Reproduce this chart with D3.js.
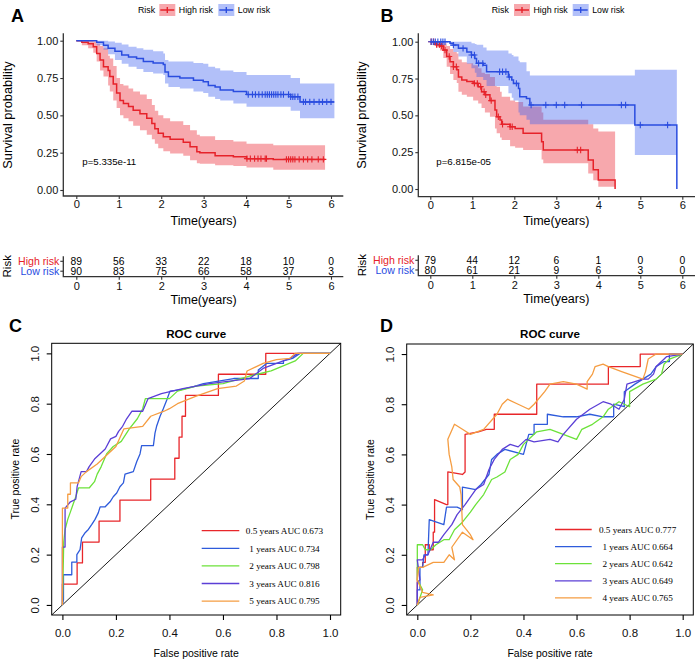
<!DOCTYPE html>
<html><head><meta charset="utf-8">
<script src="https://cdn.jsdelivr.net/npm/d3@7"></script>
<style>body{margin:0;background:#fff}</style></head>
<body><svg id="c" width="699" height="662"></svg>
<script>
// ---------------- DATA ----------------
const timeTicks = [0, 1, 2, 3, 4, 5, 6];
const survTicks = [0, 0.25, 0.5, 0.75, 1];
const rocTicks = [0, 0.2, 0.4, 0.6, 0.8, 1.0];
const riskGroups = ["High risk", "Low risk"];

// Panel A (training)
const aHighTime  = [0,0.13,0.28,0.40,0.48,0.56,0.64,0.75,0.79,0.87,0.95,1.03,1.11,1.23,1.34,1.50,1.66,1.78,1.85,1.93,2.05,2.21,2.52,2.68,2.84,2.91,3.27,3.70,4.01,4.64,5.86];
const aHighSurv  = [1,0.99,0.98,0.96,0.915,0.87,0.826,0.80,0.76,0.71,0.65,0.60,0.58,0.56,0.535,0.51,0.48,0.446,0.41,0.38,0.357,0.34,0.32,0.29,0.257,0.25,0.23,0.223,0.21,0.205,0.205];
const aHighLower = [1,0.97,0.95,0.92,0.86,0.80,0.76,0.70,0.66,0.60,0.55,0.50,0.48,0.46,0.43,0.40,0.37,0.34,0.31,0.28,0.26,0.245,0.23,0.20,0.18,0.175,0.165,0.16,0.15,0.135,0.135];
const aHighUpper = [1,1,1,0.995,0.98,0.965,0.95,0.90,0.88,0.83,0.75,0.71,0.70,0.68,0.66,0.64,0.61,0.57,0.53,0.50,0.48,0.46,0.435,0.40,0.37,0.36,0.335,0.325,0.31,0.30,0.30];
const aHighCensor = [4.02,4.1,4.2,4.28,4.35,4.45,4.48,4.95,5.0,5.05,5.1,5.15,5.25,5.35,5.45,5.55,5.7,5.82];

const aLowTime  = [0,0.48,0.64,0.75,0.91,1.07,1.23,1.42,1.58,1.81,2.05,2.09,2.17,2.44,2.76,2.99,3.11,3.27,3.39,3.70,4.01,5.05,5.27,6.08];
const aLowSurv  = [1,0.99,0.97,0.95,0.93,0.905,0.89,0.88,0.86,0.85,0.84,0.79,0.76,0.75,0.735,0.725,0.70,0.69,0.67,0.66,0.64,0.625,0.59,0.59];
const aLowLower = [1,0.97,0.94,0.91,0.87,0.845,0.826,0.81,0.79,0.78,0.77,0.714,0.69,0.68,0.66,0.65,0.625,0.61,0.60,0.58,0.558,0.53,0.48,0.48];
const aLowUpper = [1,1,1,0.995,0.987,0.975,0.96,0.95,0.94,0.93,0.915,0.87,0.86,0.86,0.85,0.845,0.826,0.815,0.80,0.79,0.77,0.75,0.714,0.714];
const aLowCensor = [4.05,4.15,4.22,4.3,4.38,4.45,4.5,4.55,4.6,4.65,4.7,4.75,4.82,4.88,5.0,5.05,5.1,5.15,5.22,5.35,5.4,5.5,5.6,5.72,5.8,5.9,6.0];

const aRiskHigh = [89, 56, 33, 22, 18, 10, 0];
const aRiskLow  = [90, 83, 75, 66, 58, 37, 3];
const aPValue = "p=5.335e-11";

// Panel B (validation)
const bHighTime  = [0,0.11,0.15,0.23,0.31,0.39,0.47,0.55,0.63,0.67,0.75,0.87,1.02,1.14,1.22,1.30,1.42,1.54,1.58,1.66,1.70,1.90,2.02,2.21,2.65,2.69,3.76,3.88,4.00,4.40];
const bHighSurv  = [1,0.99,0.98,0.97,0.943,0.90,0.864,0.83,0.81,0.76,0.74,0.73,0.717,0.695,0.66,0.64,0.60,0.536,0.49,0.468,0.44,0.423,0.41,0.378,0.32,0.265,0.197,0.13,0.061,0];
const bHighLower = [1,0.97,0.96,0.94,0.89,0.83,0.78,0.74,0.72,0.66,0.64,0.627,0.60,0.58,0.55,0.52,0.49,0.41,0.378,0.35,0.333,0.29,0.28,0.265,0.20,0.174,0.106,0.06,0.015,0.015];
const bHighUpper = [1,1,1,1,0.99,0.97,0.95,0.93,0.92,0.88,0.86,0.853,0.84,0.82,0.79,0.78,0.76,0.70,0.695,0.66,0.627,0.60,0.59,0.56,0.52,0.47,0.44,0.41,0.39,0.39];
const bHighCensor = [0.02,0.08,0.15,0.22,0.27,0.35,0.45,0.55,0.62,1.05,1.12,1.2,1.28,1.32,1.45,1.62,1.72,1.9,1.95,3.5,3.58];

const bLowTime  = [0,0.47,0.55,0.67,0.87,0.98,1.06,1.10,1.26,1.34,1.86,1.94,1.98,2.10,2.13,2.29,2.37,4.87,5.87];
const bLowSurv  = [1,0.99,0.977,0.955,0.93,0.91,0.886,0.853,0.84,0.796,0.76,0.74,0.717,0.683,0.627,0.615,0.57,0.434,0];
const bLowLower = [1,0.97,0.93,0.90,0.85,0.82,0.79,0.76,0.74,0.70,0.65,0.62,0.60,0.52,0.50,0.47,0.44,0.23,0.23];
const bLowUpper = [1,1,1,1,1,0.99,0.985,0.98,0.96,0.94,0.92,0.91,0.90,0.87,0.86,0.80,0.77,0.81,0.81];
const bLowCensor = [0.02,0.07,0.12,0.18,0.25,0.3,0.35,0.55,0.78,0.98,1.05,1.15,1.25,1.65,1.72,1.8,1.88,2.05,2.4,2.75,3.0,3.2,3.6,4.55,4.65,5.0,5.65];

const bRiskHigh = [79, 44, 12, 6, 1, 0, 0];
const bRiskLow  = [80, 61, 21, 9, 6, 3, 0];
const bPValue = "p=6.815e-05";

// Panel C ROC (training)
const cLabels = ["0.5 years AUC 0.673", "1 years AUC 0.734", "2 years AUC 0.798", "3 years AUC 0.816", "5 years AUC 0.795"];
const cRoc05 = [[0,0],[0,0.083],[0.055,0.083],[0.055,0.167],[0.075,0.167],[0.075,0.25],[0.137,0.25],[0.137,0.333],[0.215,0.333],[0.215,0.417],[0.33,0.417],[0.33,0.5],[0.42,0.5],[0.42,0.583],[0.436,0.583],[0.436,0.667],[0.447,0.667],[0.447,0.75],[0.46,0.75],[0.46,0.833],[0.583,0.833],[0.583,0.917],[0.76,0.917],[0.76,1],[1,1]];
const cRoc1 = [[0,0],[0.004,0.02],[0.004,0.12],[0.035,0.12],[0.035,0.17],[0.054,0.17],[0.054,0.2],[0.066,0.22],[0.072,0.267],[0.085,0.287],[0.097,0.30],[0.11,0.32],[0.122,0.34],[0.134,0.366],[0.141,0.39],[0.16,0.39],[0.178,0.41],[0.19,0.43],[0.203,0.445],[0.215,0.47],[0.228,0.485],[0.234,0.52],[0.265,0.53],[0.278,0.57],[0.29,0.60],[0.296,0.633],[0.34,0.633],[0.346,0.683],[0.352,0.71],[0.365,0.75],[0.377,0.78],[0.39,0.815],[0.402,0.85],[0.44,0.855],[0.49,0.868],[0.527,0.88],[0.64,0.90],[0.732,0.90],[0.732,0.934],[0.763,0.96],[0.826,0.96],[0.826,0.97],[0.86,0.98],[0.888,1],[1,1]];
const cRoc2 = [[0,0],[0.005,0.25],[0.01,0.30],[0.02,0.34],[0.03,0.37],[0.04,0.40],[0.05,0.43],[0.06,0.465],[0.1,0.465],[0.12,0.49],[0.13,0.52],[0.145,0.55],[0.165,0.6],[0.19,0.63],[0.22,0.65],[0.25,0.70],[0.28,0.74],[0.3,0.78],[0.31,0.82],[0.4,0.82],[0.43,0.85],[0.5,0.87],[0.6,0.88],[0.7,0.91],[0.78,0.93],[0.87,0.97],[0.9,1],[1,1]];
const cRoc3 = [[0,0],[0,0.23],[0.01,0.23],[0.01,0.385],[0.03,0.41],[0.05,0.42],[0.055,0.47],[0.07,0.53],[0.09,0.53],[0.1,0.55],[0.12,0.58],[0.14,0.60],[0.16,0.62],[0.18,0.66],[0.2,0.67],[0.21,0.69],[0.225,0.71],[0.24,0.74],[0.26,0.77],[0.3,0.77],[0.32,0.82],[0.37,0.84],[0.45,0.86],[0.55,0.88],[0.7,0.9],[0.75,0.94],[0.8,0.96],[0.85,0.98],[0.88,1],[1,1]];
const cRoc5 = [[0,0],[0,0.385],[0.02,0.385],[0.02,0.44],[0.03,0.44],[0.03,0.485],[0.06,0.485],[0.07,0.51],[0.09,0.53],[0.13,0.56],[0.17,0.6],[0.2,0.63],[0.23,0.7],[0.3,0.71],[0.33,0.75],[0.38,0.77],[0.4,0.78],[0.43,0.8],[0.5,0.83],[0.58,0.86],[0.65,0.87],[0.68,0.89],[0.69,0.93],[0.75,0.96],[0.8,0.975],[0.85,0.98],[0.87,1],[1,1]];

// Panel D ROC (validation)
const dLabels = ["0.5 years AUC 0.777", "1 years AUC 0.664", "2 years AUC 0.642", "3 years AUC 0.649", "4 years AUC 0.765"];
const dRoc05 = [[0,0],[0,0.15],[0.02,0.15],[0.02,0.17],[0.03,0.17],[0.03,0.24],[0.045,0.24],[0.045,0.22],[0.06,0.22],[0.06,0.29],[0.065,0.29],[0.065,0.42],[0.11,0.40],[0.115,0.40],[0.115,0.53],[0.17,0.52],[0.18,0.53],[0.18,0.68],[0.23,0.69],[0.26,0.70],[0.29,0.70],[0.29,0.76],[0.45,0.76],[0.45,0.88],[0.5,0.88],[0.72,0.88],[0.72,0.95],[0.84,0.95],[0.84,1],[1,1]];
const dRoc1 = [[0,0],[0,0.06],[0.01,0.06],[0.01,0.15],[0.02,0.15],[0.025,0.2],[0.04,0.2],[0.045,0.34],[0.1,0.32],[0.11,0.39],[0.15,0.39],[0.17,0.38],[0.17,0.47],[0.22,0.46],[0.24,0.48],[0.27,0.52],[0.28,0.58],[0.3,0.6],[0.33,0.62],[0.4,0.6],[0.41,0.64],[0.42,0.68],[0.44,0.68],[0.44,0.72],[0.49,0.72],[0.49,0.76],[0.55,0.75],[0.6,0.75],[0.65,0.76],[0.7,0.75],[0.74,0.75],[0.74,0.8],[0.78,0.79],[0.78,0.85],[0.82,0.88],[0.85,0.9],[0.88,0.92],[0.9,0.95],[0.93,0.97],[0.95,0.97],[0.95,1],[1,1]];
const dRoc2 = [[0,0],[0.02,0.06],[0,0.1],[0,0.24],[0.02,0.24],[0.03,0.22],[0.05,0.22],[0.07,0.24],[0.1,0.26],[0.12,0.26],[0.14,0.3],[0.17,0.33],[0.2,0.37],[0.22,0.4],[0.25,0.44],[0.28,0.5],[0.3,0.51],[0.33,0.53],[0.35,0.58],[0.38,0.6],[0.4,0.64],[0.43,0.67],[0.45,0.69],[0.5,0.7],[0.55,0.68],[0.6,0.66],[0.62,0.7],[0.66,0.72],[0.7,0.75],[0.72,0.78],[0.76,0.81],[0.8,0.79],[0.8,0.85],[0.85,0.88],[0.9,0.9],[0.92,0.92],[0.93,0.96],[0.95,0.98],[1,1]];
const dRoc3 = [[0,0],[0,0.09],[0.01,0.1],[0,0.18],[0.02,0.18],[0.03,0.2],[0.04,0.2],[0.06,0.25],[0.08,0.25],[0.1,0.28],[0.13,0.32],[0.15,0.36],[0.18,0.4],[0.2,0.43],[0.22,0.46],[0.25,0.48],[0.27,0.54],[0.29,0.58],[0.32,0.62],[0.35,0.64],[0.38,0.63],[0.41,0.66],[0.44,0.65],[0.5,0.66],[0.53,0.65],[0.55,0.68],[0.6,0.74],[0.65,0.78],[0.7,0.81],[0.73,0.80],[0.76,0.78],[0.78,0.82],[0.79,0.88],[0.82,0.89],[0.85,0.9],[0.87,0.9],[0.89,0.92],[0.9,0.95],[0.92,0.97],[0.94,0.99],[1,1]];
const dRoc4 = [[0,0],[0.01,0.03],[0.06,0.04],[0.02,0.05],[0,0.1],[0.005,0.15],[0.02,0.15],[0.04,0.16],[0.06,0.17],[0.1,0.17],[0.12,0.2],[0.14,0.18],[0.13,0.23],[0.17,0.29],[0.21,0.26],[0.2,0.28],[0.17,0.32],[0.165,0.44],[0.16,0.47],[0.135,0.5],[0.13,0.55],[0.12,0.6],[0.115,0.66],[0.14,0.72],[0.17,0.70],[0.2,0.68],[0.25,0.7],[0.3,0.76],[0.32,0.8],[0.34,0.82],[0.38,0.8],[0.42,0.78],[0.44,0.8],[0.48,0.85],[0.5,0.88],[0.55,0.89],[0.6,0.88],[0.64,0.86],[0.64,0.89],[0.66,0.92],[0.67,0.95],[0.7,0.96],[0.72,0.95],[0.77,0.93],[0.85,0.9],[0.86,0.93],[0.87,0.98],[0.9,1],[0.95,1],[1,1]];

const rocColors = ["#E8262A", "#2E5BDB", "#6CE23A", "#5B3FD6", "#F59D42"];

// ---------------- DRAWING ----------------
const SANS = "'Liberation Sans', Arial, Helvetica, sans-serif";
const SERIF = "'Liberation Serif', 'Times New Roman', serif";
const RED = "#E6222A", BLUE = "#2A4CDF";
const RED_BAND = "#EE3F4A", BLUE_BAND = "#3F62F0";
const svg = d3.select("#c");
svg.append("rect").attr("width", 699).attr("height", 662).attr("fill", "#fff");

function text(x, y, s, o = {}) {
  const t = svg.append("text").attr("x", x).attr("y", y).text(s)
    .attr("font-family", o.family || SANS).attr("font-size", o.size || 11)
    .attr("fill", o.fill || "#000").attr("text-anchor", o.anchor || "start");
  if (o.weight) t.attr("font-weight", o.weight);
  if (o.rotate) t.attr("transform", `rotate(-90,${x},${y})`);
  return t;
}

function styleAxis(g, size, color) {
  g.selectAll("text").attr("font-family", SANS).attr("font-size", size).attr("fill", "#111");
  g.selectAll("line").attr("stroke", color).attr("stroke-width", 1.1);
  g.select(".domain").remove();
}

function kmPanel(p) {
  const x = d3.scaleLinear().domain([0, 6]).range([p.x0, p.x6]);
  const y = d3.scaleLinear().domain([0, 1]).range([p.y0, p.y1]);
  const g = svg.append("g");
  const groups = [
    { time: p.highT, surv: p.highS, lo: p.highL, up: p.highU, cen: p.highC, color: RED, band: RED_BAND, op: 0.45 },
    { time: p.lowT, surv: p.lowS, lo: p.lowL, up: p.lowU, cen: p.lowC, color: BLUE, band: BLUE_BAND, op: 0.4 }
  ];
  groups.forEach(gr => {
    const pts = gr.time.map((t, i) => ({ t, l: gr.lo[i], u: gr.up[i] }));
    g.append("path").datum(pts)
      .attr("d", d3.area().curve(d3.curveStepAfter).x(d => x(d.t)).y0(d => y(d.l)).y1(d => y(d.u)))
      .attr("fill", gr.band).attr("fill-opacity", gr.op);
  });
  groups.forEach(gr => {
    const pts = gr.time.map((t, i) => ({ t, s: gr.surv[i] }));
    g.append("path").datum(pts)
      .attr("d", d3.line().curve(d3.curveStepAfter).x(d => x(d.t)).y(d => y(d.s)))
      .attr("fill", "none").attr("stroke", gr.color).attr("stroke-width", 1.5);
    gr.cen.forEach(c => {
      const i = d3.bisectRight(gr.time, c) - 1;
      const cx = x(c), cy = y(gr.surv[i]);
      g.append("path").attr("d", `M${cx - 3},${cy}H${cx + 3}M${cx},${cy - 3.2}V${cy + 3.2}`)
        .attr("stroke", gr.color).attr("stroke-width", 1.1);
    });
  });
  // axes
  const ax = svg.append("g").attr("transform", `translate(0,${p.axisY})`)
    .call(d3.axisBottom(x).tickValues(timeTicks).tickSize(3).tickPadding(1.5).tickFormat(d3.format("d")));
  styleAxis(ax, 11.2, "#333");
  const ay = svg.append("g").attr("transform", `translate(${p.axisX},0)`)
    .call(d3.axisLeft(y).tickValues(survTicks).tickSize(3).tickPadding(2).tickFormat(d3.format(".2f")));
  styleAxis(ay, 11, "#333");
  svg.append("path").attr("d", `M${p.axisX},${p.axisTop}V${p.axisY}H${p.axisRight}`)
    .attr("fill", "none").attr("stroke", "#333").attr("stroke-width", 1.3);
  text((p.x0 + p.x6) / 2, p.axisY + 28.5, "Time(years)", { size: 12.5, anchor: "middle" });
  text(p.ylabX, 115, "Survival probability", { size: 12.8, anchor: "middle", rotate: true });
  text(x(0) + 6, 164.5, p.pval, { size: 9.7 });
  // legend
  const L = p.legend;
  text(L.risk, 13, "Risk", { size: 8.8 });
  [[L.k1, RED, RED_BAND, 0.45, "High risk"], [L.k2, BLUE, BLUE_BAND, 0.4, "Low risk"]].forEach(([kx, c, b, op, lab]) => {
    svg.append("rect").attr("x", kx).attr("y", 4).attr("width", 16).attr("height", 12).attr("fill", b).attr("fill-opacity", op);
    svg.append("path").attr("d", `M${kx + 1},10H${kx + 15}M${kx + 8},7V13`).attr("stroke", c).attr("stroke-width", 1.4);
    text(kx + 19.5, 13, lab, { size: 8.8 });
  });
  // panel letter
  text(p.letterX, 21.5, p.letter, { size: 18, weight: "bold" });
  // risk table
  const R = p.table;
  const tx = svg.append("g").attr("transform", `translate(0,${R.axisY})`)
    .call(d3.axisBottom(x).tickValues(timeTicks).tickSize(3).tickPadding(2.5).tickFormat(d3.format("d")));
  styleAxis(tx, 11, "#333");
  svg.append("path").attr("d", `M${p.axisX},${R.rowHigh - 5}V${R.axisY}H${p.axisRight}`)
    .attr("fill", "none").attr("stroke", "#333").attr("stroke-width", 1.3);
  [[R.rowHigh, riskGroups[0], RED, p.riskHigh], [R.rowLow, riskGroups[1], BLUE, p.riskLow]].forEach(([ry, lab, c, vals]) => {
    svg.append("line").attr("x1", p.axisX - 3).attr("x2", p.axisX).attr("y1", ry).attr("y2", ry).attr("stroke", "#333").attr("stroke-width", 1.1);
    text(p.axisX - 4, ry + 3.6, lab, { size: 10.6, fill: c, anchor: "end" });
    vals.forEach((v, i) => text(x(timeTicks[i]), ry + 3.6, String(v), { size: 10.3, anchor: "middle" }));
  });
  text(R.riskX, (R.rowHigh + R.rowLow) / 2, "Risk", { size: 11.5, anchor: "middle", rotate: true }).attr("dy", "0.35em");
  text((p.x0 + p.x6) / 2, R.axisY + 27.5, "Time(years)", { size: 12.5, anchor: "middle" });
}

kmPanel({
  x0: 76.3, x6: 331, y0: 190, y1: 40.7, axisX: 63.3, axisY: 196, axisTop: 33.3, axisRight: 343.3,
  highT: aHighTime, highS: aHighSurv, highL: aHighLower, highU: aHighUpper, highC: aHighCensor,
  lowT: aLowTime, lowS: aLowSurv, lowL: aLowLower, lowU: aLowUpper, lowC: aLowCensor,
  pval: aPValue, ylabX: 12, letter: "A", letterX: 11,
  legend: { risk: 138, k1: 159.3, k2: 218.3 },
  table: { axisY: 276.7, rowHigh: 261.3, rowLow: 271.2, riskX: 7 },
  riskHigh: aRiskHigh, riskLow: aRiskLow
});
kmPanel({
  x0: 430.3, x6: 682.3, y0: 189, y1: 41.7, axisX: 418.3, axisY: 196.7, axisTop: 33.3, axisRight: 695,
  highT: bHighTime, highS: bHighSurv, highL: bHighLower, highU: bHighUpper, highC: bHighCensor,
  lowT: bLowTime, lowS: bLowSurv, lowL: bLowLower, lowU: bLowUpper, lowC: bLowCensor,
  pval: bPValue, ylabX: 366, letter: "B", letterX: 380.5,
  legend: { risk: 491.7, k1: 514, k2: 572.7 },
  table: { axisY: 275.7, rowHigh: 260.3, rowLow: 270, riskX: 361.7 },
  riskHigh: bRiskHigh, riskLow: bRiskLow
});

function rocPanel(p) {
  const x = d3.scaleLinear().domain([-0.04, 1.04]).range([p.left, p.right]);
  const y = d3.scaleLinear().domain([-0.04, 1.04]).range([p.bottom, p.top]);
  const clipId = "clip" + p.letter;
  svg.append("clipPath").attr("id", clipId).append("rect")
    .attr("x", p.left).attr("y", p.top).attr("width", p.right - p.left).attr("height", p.bottom - p.top);
  const g = svg.append("g").attr("clip-path", `url(#${clipId})`);
  g.append("line").attr("x1", x(-0.04)).attr("y1", y(-0.04)).attr("x2", x(1.04)).attr("y2", y(1.04))
    .attr("stroke", "#000").attr("stroke-width", 0.9);
  const line = d3.line().x(d => x(d[0])).y(d => y(d[1]));
  p.curves.forEach((c, i) => {
    g.append("path").datum(c).attr("d", line).attr("fill", "none")
      .attr("stroke", rocColors[i]).attr("stroke-width", 1.3).attr("stroke-linejoin", "round");
  });
  svg.append("rect").attr("x", p.left).attr("y", p.top).attr("width", p.right - p.left).attr("height", p.bottom - p.top)
    .attr("fill", "none").attr("stroke", "#000").attr("stroke-width", 1);
  const ax = svg.append("g").attr("transform", `translate(0,${p.bottom})`)
    .call(d3.axisBottom(x).tickValues(rocTicks).tickSize(5).tickPadding(9).tickFormat(d3.format(".1f")));
  styleAxis(ax, 11.5, "#000");
  const ay = svg.append("g").attr("transform", `translate(${p.left},0)`)
    .call(d3.axisLeft(y).tickValues(rocTicks).tickSize(5).tickPadding(7.7).tickFormat(d3.format(".1f")));
  styleAxis(ay, 11.5, "#000");
  ay.selectAll(".tick text").attr("text-anchor", "middle").attr("dy", 0)
    .attr("x", 0).attr("transform", "translate(-12.7,0) rotate(-90)");
  text((p.left + p.right) / 2, 337.5, "ROC curve", { size: 11.6, weight: "bold", anchor: "middle" });
  text((p.left + p.right) / 2, 657, "False positive rate", { size: 10.5, anchor: "middle" });
  text(p.ylabX, (p.top + p.bottom) / 2, "True positive rate", { size: 10.5, anchor: "middle", rotate: true }).attr("dy", "0.35em");
  text(p.letterX, 332, p.letter, { size: 18, weight: "bold" });
  p.labels.forEach((lab, i) => {
    const ly = p.legY + i * p.legStep;
    svg.append("line").attr("x1", p.legX1).attr("x2", p.legX2).attr("y1", ly).attr("y2", ly)
      .attr("stroke", rocColors[i]).attr("stroke-width", 1.3);
    text(p.legText, ly + 3.2, lab, { size: 9.2, family: SERIF, anchor: "middle" });
  });
}

rocPanel({
  letter: "C", letterX: 9, left: 51.7, right: 340.7, top: 343.3, bottom: 615, ylabX: 15,
  curves: [cRoc05, cRoc1, cRoc2, cRoc3, cRoc5], labels: cLabels,
  legX1: 201.7, legX2: 239.3, legText: 284.5, legY: 530.7, legStep: 17.6
});
rocPanel({
  letter: "D", letterX: 380, left: 406.7, right: 693.3, top: 344, bottom: 615, ylabX: 370,
  curves: [dRoc05, dRoc1, dRoc2, dRoc3, dRoc4], labels: dLabels,
  legX1: 555, legX2: 591.7, legText: 637.6, legY: 529.5, legStep: 17.1
});
</script></body></html>
